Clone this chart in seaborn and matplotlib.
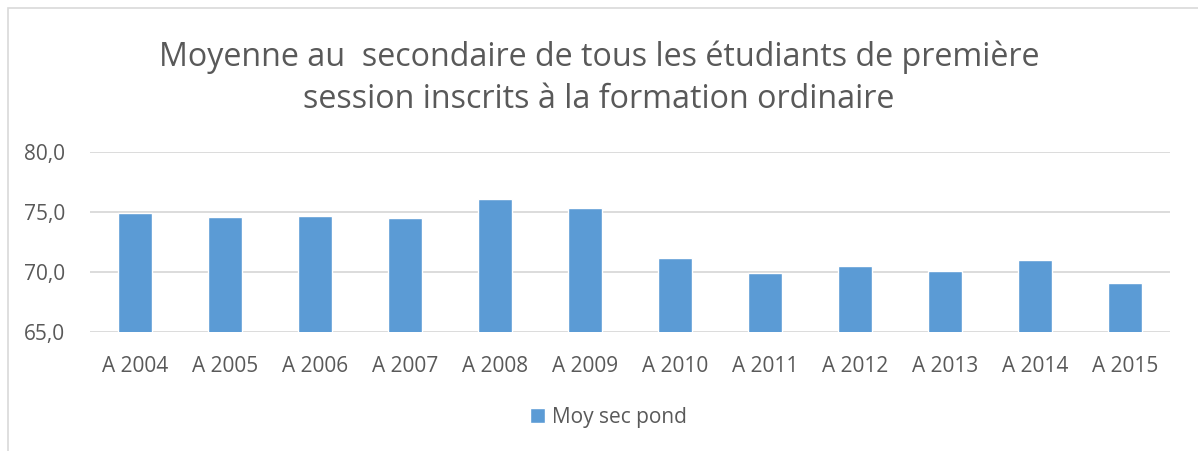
import matplotlib
matplotlib.use("Agg")
import matplotlib.pyplot as plt
import seaborn as sns
import pandas as pd
from matplotlib.patches import Rectangle

categories = ["A 2004", "A 2005", "A 2006", "A 2007", "A 2008", "A 2009",
              "A 2010", "A 2011", "A 2012", "A 2013", "A 2014", "A 2015"]
values = [74.9, 74.6, 74.7, 74.5, 76.1, 75.3, 71.15, 69.9, 70.5, 70.05, 71.0, 69.1]
yticks = [65.0, 70.0, 75.0, 80.0]
series_name = "Moy sec pond"
title_lines = ["Moyenne au  secondaire de tous les étudiants de première",
               "session inscrits à la formation ordinaire"]

sns.set_theme(style="white")
plt.rcParams['font.family'] = ['Open Sans', 'DejaVu Sans']

df = pd.DataFrame({"cat": categories, "val": values, "series": series_name})

W, H = 1198, 451
fig = plt.figure(figsize=(W / 100, H / 100), dpi=100)
ax = fig.add_axes([90 / W, 1 - 332 / H, (1170 - 90) / W, (332 - 152) / H])

sns.barplot(data=df, x="cat", y="val", hue="series", palette=["#5B9BD5"],
            width=0.375, ax=ax, saturation=1, legend=True, zorder=3)

ax.set_ylim(65, 80)
ax.set_xlim(-0.5, len(categories) - 0.5)
ax.set_yticks(yticks)
ax.set_yticklabels([f"{v:.1f}".replace(".", ",") for v in yticks])
ax.yaxis.grid(True, color="#D9D9D9", linewidth=1.3, zorder=0)
ax.set_axisbelow(True)
for s in ax.spines.values():
    s.set_visible(False)
ax.set_xlabel("")
ax.set_ylabel("")
ax.tick_params(axis="both", length=0, labelsize=15, colors="#595959")
ax.tick_params(axis="x", pad=17)
ax.tick_params(axis="y", pad=18)

leg = ax.legend(loc="center", frameon=False,
                fontsize=15, handlelength=0.75, handleheight=0.75, handletextpad=0.3)
for t in leg.get_texts():
    t.set_color("#595959")
leg.set_bbox_to_anchor((608 / W, 1 - 417 / H), transform=fig.transFigure)

for line, base in zip(title_lines, [66, 108]):
    fig.text(0.5, 1 - base / H, line, ha="center", va="baseline", fontsize=23.2,
             color="#595959")

fig.patches.append(Rectangle((8 / W, -0.1), 1.2, 1 - 8 / H + 0.1, transform=fig.transFigure,
                             fill=False, edgecolor="#D9D9D9", linewidth=1.2))

fig.savefig("out.png", dpi=100, facecolor="white")
